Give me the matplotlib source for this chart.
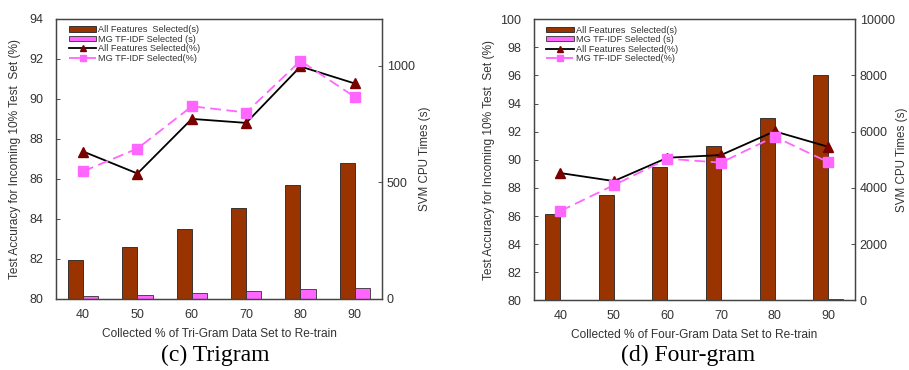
import numpy as np
import matplotlib.pyplot as plt

plt.rcParams['font.family'] = ['Liberation Sans', 'DejaVu Sans']

cats = [40, 50, 60, 70, 80, 90]

# (c) trigram
tri_all_s = [166, 221, 301, 390, 487, 583]
tri_mg_s = [13, 19, 26, 34, 41, 47]
tri_all_pct = [87.37, 86.27, 89.0, 88.8, 91.62, 90.77]
tri_mg_pct = [86.38, 87.52, 89.63, 89.32, 91.9, 90.1]

# (d) four-gram
four_all_s = [3082, 3737, 4754, 5491, 6499, 8007]
four_mg_s = [15, 18, 22, 25, 30, 35]
four_all_pct = [89.06, 88.49, 90.15, 90.34, 92.03, 90.93]
four_mg_pct = [86.36, 88.2, 90.08, 89.8, 91.65, 89.84]

brown = '#993300'
pink = '#ff66ff'
txt = '#333333'

fig = plt.figure(figsize=(9.09, 3.70), dpi=100)


def panel(rect, all_s, mg_s, all_pct, mg_pct, ylim, ylim2, yt, yt2, xlabel, caption, cx, lpad, rpad):
    ax = fig.add_axes(rect)
    ax2 = ax.twinx()
    x = np.arange(len(cats))
    w = 0.28
    ax2.bar(x - w/2, all_s, w, color=brown, edgecolor='#222222', lw=0.6,
            label='All Features  Selected(s)')
    ax2.bar(x + w/2, mg_s, w, color=pink, edgecolor='#333333', lw=0.6,
            label='MG TF-IDF Selected (s)')
    ax.plot(x, all_pct, '-', color='black', lw=1.3, marker='^', ms=7,
            mfc='#7a0000', mec='#7a0000', label='All Features Selected(%)')
    ax.plot(x, mg_pct, '--', color=pink, lw=1.3, dashes=(6, 3), marker='s', ms=7,
            mfc=pink, mec=pink, label='MG TF-IDF Selected(%)')
    ax.set_zorder(ax2.get_zorder() + 1)
    ax.patch.set_visible(False)
    ax.set_xlim(-0.5, 5.5)
    ax.set_ylim(*ylim)
    ax2.set_ylim(*ylim2)
    ax.set_yticks(yt)
    ax2.set_yticks(yt2)
    ax.set_xticks(x)
    ax.set_xticklabels([str(c) for c in cats])
    for a in (ax, ax2):
        a.tick_params(direction='in', labelsize=9, colors=txt, length=3, width=0.6)
        for s in a.spines.values():
            s.set_color('#444444')
            s.set_linewidth(0.9)
    ax.tick_params(axis='y', pad=9)
    ax.tick_params(axis='x', length=0, pad=7)
    ax.set_ylabel('Test Accuracy for Incoming 10% Test  Set (%)', fontsize=8.6, color=txt, labelpad=lpad)
    ax2.set_ylabel('SVM CPU Times (s)', fontsize=8.4, color=txt, labelpad=rpad)
    ax.set_xlabel(xlabel, fontsize=8.6, color=txt, labelpad=5)
    h1, l1 = ax2.get_legend_handles_labels()
    h2, l2 = ax.get_legend_handles_labels()
    ax.legend(h1 + h2, l1 + l2, loc='upper left', frameon=False, fontsize=6.6,
              handlelength=3.0, handleheight=0.5, labelspacing=0.05,
              handletextpad=0.2, borderaxespad=0.3, bbox_to_anchor=(0.02, 1.0),
              labelcolor=txt, markerscale=0.6)
    fig.text(cx, 0.04, caption, ha='center', va='center', fontsize=17,
             family='Liberation Serif')


panel([0.0616, 0.192, 0.3586, 0.757], tri_all_s, tri_mg_s, tri_all_pct, tri_mg_pct,
      (80, 94), (0, 1200), range(80, 95, 2), [0, 500, 1000],
      'Collected % of Tri-Gram Data Set to Re-train', '(c) Trigram', 0.237, 6, 3)
panel([0.587, 0.188, 0.3535, 0.760], four_all_s, four_mg_s, four_all_pct, four_mg_pct,
      (80, 100), (0, 10000), range(80, 101, 2), range(0, 10001, 2000),
      'Collected % of Four-Gram Data Set to Re-train', '(d) Four-gram', 0.757, 4, 1)

fig.savefig('out.png', dpi=100)
